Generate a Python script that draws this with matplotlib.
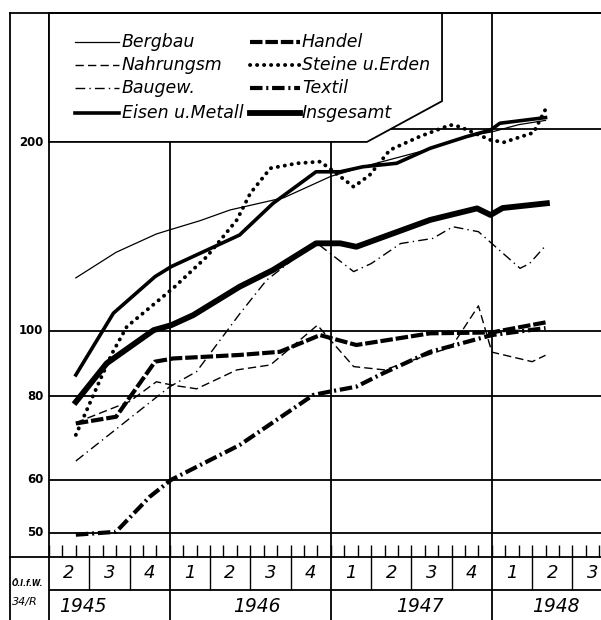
import matplotlib
matplotlib.use("Agg")
import matplotlib.pyplot as plt
from matplotlib.lines import Line2D
from matplotlib.patches import Polygon

plt.rcParams['font.family'] = 'DejaVu Sans'

# x = months counted from 1 April 1945, y = index (log scale)
bergbau_m = [2, 5, 8, 9, 11.25, 13.5, 17.5, 21, 24, 28.5, 31, 33, 35, 37]
bergbau_v = [120, 131, 139.5, 141.5, 146, 151.5, 158, 170, 177, 187, 195, 198, 203, 206]

nahrung_m = [2, 6, 8, 9.25, 11, 14, 16.5, 20, 22.7, 25, 30, 32, 33, 35, 36, 37]
nahrung_v = [73, 78.5, 84, 83, 82, 87.5, 89, 102, 88.5, 87.5, 94.7, 109, 93, 91, 90, 92]

baugew_m = [2, 9, 11, 14.2, 16.2, 19.4, 20, 22.7, 24, 26.2, 28.6, 30.1, 32, 33, 35.1, 35.8, 37]
baugew_v = [64, 82.6, 87, 106, 119, 133.5, 135, 122.6, 126, 135, 137.4, 143, 140.6, 135, 124, 126, 134]

eisen_m = [2, 4.8, 7.9, 9.1, 14.2, 16.7, 19.9, 21.7, 23.4, 25.9, 28.4, 31.1, 32.9, 33.6, 37]
eisen_v = [86, 106.3, 120.5, 124.7, 139, 155, 172.7, 172.7, 175.7, 177.8, 187.2, 194.8, 199.3, 204, 208]

handel_m = [2, 5, 7.9, 9.25, 14.2, 17.2, 20.2, 22.9, 28.4, 33, 37]
handel_v = [72.8, 74.5, 90, 91, 92.1, 93.1, 98.6, 95.3, 99.2, 99.5, 103]

steine_m = [2, 3.8, 4.7, 5.8, 9.25, 11.75, 14, 15, 16.5, 18.5, 20.2, 20.9, 22.7, 23.9,
            25.4, 27.6, 29.9, 30.6, 32.9, 33.9, 36.1, 37]
steine_v = [70, 84.5, 92.6, 101.5, 115.8, 129, 146.4, 160.4, 174.8, 177.8, 178.8, 174.8, 164, 170.8,
            186.1, 194.8, 202.8, 201.6, 192.6, 191.1, 197.5, 214]

textil_m = [2, 5, 7.5, 9.1, 14.2, 19.7, 20.9, 22.9, 24.9, 28.4, 33, 37]
textil_v = [49.7, 50.2, 56.6, 60, 67.6, 80.3, 81.2, 82.6, 86.5, 93.1, 98.6, 101]

gesamt_m = [2, 4.3, 7.8, 9.1, 10.75, 14.2, 16.7, 19.9, 21.7, 22.9, 28.4, 31.9, 32.9, 33.8, 37.1]
gesamt_v = [78.4, 89.5, 100.3, 102, 105.6, 116.4, 123.3, 135.1, 135.1, 133.5, 146.4, 152.3, 148.9, 152.5, 155]

y_ticks = [50, 60, 80, 100, 200]
year_bounds = [9, 21, 33]
quarter_labels = ['2', '3', '4', '1', '2', '3', '4', '1', '2', '3', '4', '1', '2', '3']
year_labels = ['1945', '1946', '1947', '1948']
year_pos = [2.5, 15.5, 27.6, 37.8]

W, H = 601, 620
L, R, T, B = 49, 601, 13, 557
PX_MONTH = 13.42
fig = plt.figure(figsize=(W / 100, H / 100), dpi=100)
ax = fig.add_axes([L / W, 1 - B / H, (R - L) / W, (B - T) / H])
ax.set_yscale('log')
ax.set_ylim(46.04, 297.8)
ax.set_xlim(0, (R - L) / PX_MONTH)
ax.minorticks_off()
ax.set_yticks([])
ax.set_xticks(range(0, 42))
ax.tick_params(axis='x', direction='in', length=8.6, width=1.0, labelbottom=False, color='k')
ax.spines['right'].set_visible(False)
for s in ('left', 'bottom', 'top'):
    ax.spines[s].set_linewidth(1.3)

for v in y_ticks:
    ax.axhline(v, color='k', lw=1.3, zorder=1)
    off = -10 if v == 200 else 0
    ax.annotate(str(v), (0, v), xycoords=('axes fraction', 'data'),
                xytext=(-4, off), textcoords='offset points',
                ha='right', va='center', fontsize=8.5, fontweight='bold')
for m in year_bounds:
    ax.axvline(m, color='k', lw=1.3, zorder=1)

styles = {
    'Bergbau': dict(lw=0.9, ls='-'),
    'Nahrungsm': dict(lw=1.0, ls=(0, (6, 3))),
    'Baugew.': dict(lw=1.0, ls=(0, (7, 3, 1, 3))),
    'Eisen u.Metall': dict(lw=2.6, ls='-'),
    'Handel': dict(lw=3.0, ls=(0, (3, 0.7))),
    'Steine u.Erden': dict(lw=2.8, ls=(0, (0.05, 1.75)), dash_capstyle='round'),
    'Textil': dict(lw=3.0, ls=(0, (3, 0.9, 0.5, 0.9))),
    'Insgesamt': dict(lw=4.2, ls='-'),
}
series = [
    ('Bergbau', bergbau_m, bergbau_v),
    ('Nahrungsm', nahrung_m, nahrung_v),
    ('Baugew.', baugew_m, baugew_v),
    ('Eisen u.Metall', eisen_m, eisen_v),
    ('Handel', handel_m, handel_v),
    ('Steine u.Erden', steine_m, steine_v),
    ('Textil', textil_m, textil_v),
    ('Insgesamt', gesamt_m, gesamt_v),
]
for name, xs, ys in series:
    ax.plot(xs, ys, color='k', zorder=3, **styles[name])

# legend box with cut corner
box = Polygon([(0, 1), (0.712, 1), (0.712, 0.838), (0.576, 0.763), (0, 0.763)],
              closed=True, facecolor='white', edgecolor='k', lw=1.3,
              transform=ax.transAxes, zorder=5, clip_on=False)
ax.add_patch(box)
rows = [0.9467, 0.9044, 0.8621, 0.8162]
cols = [(0.0464, 0.126, 0.1317), (0.365, 0.455, 0.458)]
for i, (name, _, _) in enumerate(series):
    c, r = divmod(i, 4)
    x0, x1, xt = cols[c]
    ax.add_line(Line2D([x0, x1], [rows[r], rows[r]], color='k', transform=ax.transAxes,
                       zorder=6, **styles[name]))
    ax.text(xt, rows[r], name, transform=ax.transAxes, ha='left', va='center',
            fontsize=12.5, style='italic', zorder=6)

# time axis table
axb = fig.add_axes([L / W, 0, (R - L) / W, (H - B) / H])
axb.set_xlim(ax.get_xlim())
axb.set_ylim(0, 1)
axb.axis('off')
split = (H - 590) / (H - B)
axb.axhline(split, color='k', lw=1.3)
for m in range(3, 42, 3):
    if m in year_bounds:
        axb.vlines(m, 0, 1, color='k', lw=1.3)
    else:
        axb.vlines(m, split, 1, color='k', lw=1.0)
axb.vlines(0, 0, 1, color='k', lw=1.3, clip_on=False)
for i, q in enumerate(quarter_labels):
    axb.text(1.5 + 3 * i, (1 + split) / 2, q, ha='center', va='center',
             fontsize=13, style='italic')
for p, y in zip(year_pos, year_labels):
    axb.text(p, split / 2 - 0.03, y, ha='center', va='center', fontsize=13.5, style='italic')

# outer frame and source note
fig.add_artist(Line2D([10 / W, 1], [1 - T / H] * 2, color='k', lw=1.3, transform=fig.transFigure))
fig.add_artist(Line2D([10 / W] * 2, [1 - T / H, 0], color='k', lw=1.3, transform=fig.transFigure))
fig.add_artist(Line2D([10 / W, L / W], [1 - B / H] * 2, color='k', lw=1.3, transform=fig.transFigure))
fig.text(12 / W, 1 - 584 / H, 'Ö.I.f.W.', fontsize=5.5, fontweight='bold', style='italic', va='center')
fig.text(12 / W, 1 - 602 / H, '34/R', fontsize=8, style='italic', va='center')

fig.savefig('out.png', dpi=100)
